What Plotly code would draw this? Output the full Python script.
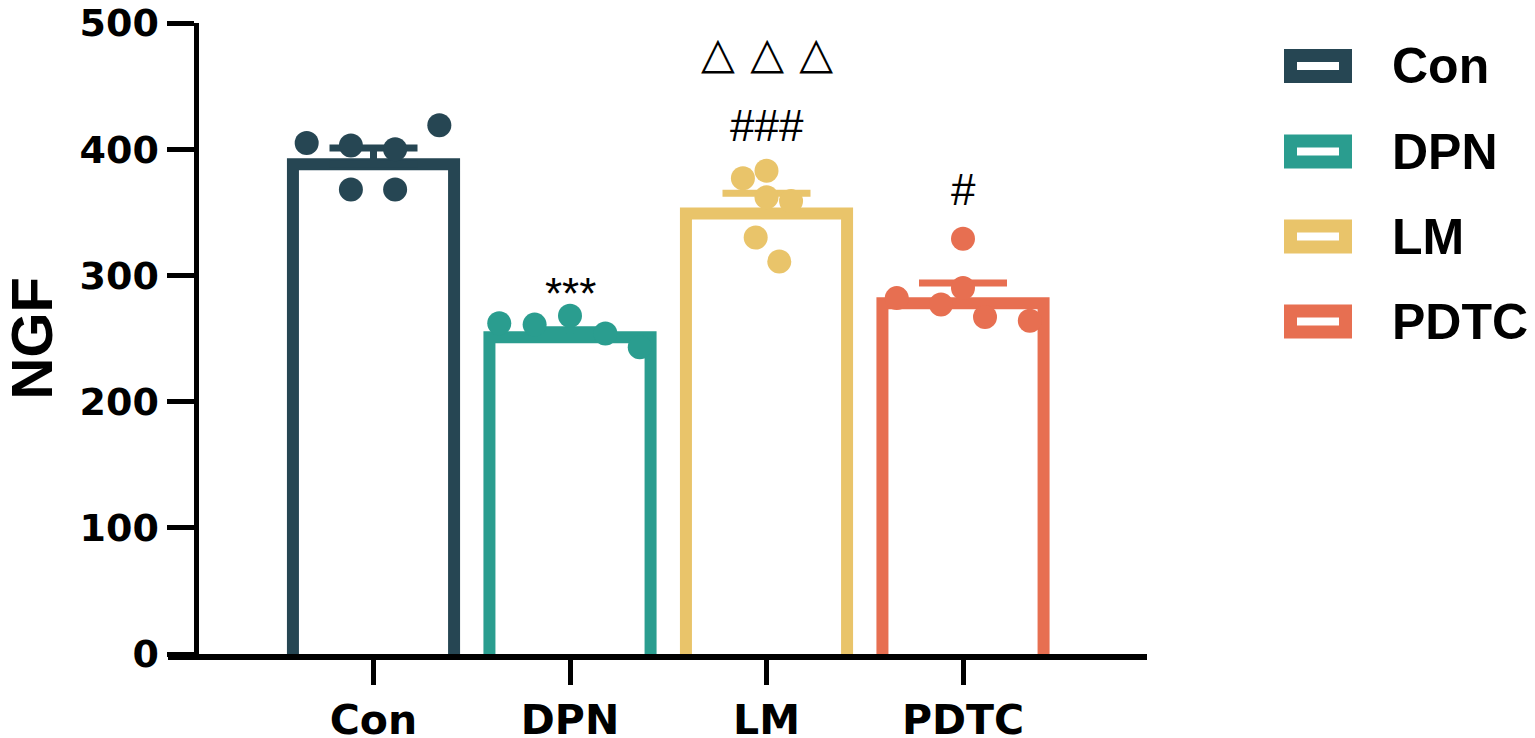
import plotly.graph_objects as go

# groups and colours
groups = ["Con", "DPN", "LM", "PDTC"]
colors = ["#264653", "#2a9d8f", "#e9c46a", "#e76f51"]

# bar heights (mean) and upper error (SEM)
means = [388, 251, 349, 278]
sems = [13, 6, 16, 16]

# individual points per group
con_pts = [405, 403, 400, 419, 368, 368]
dpn_pts = [262, 261, 268, 254, 243]
lm_pts = [377, 383, 362, 359, 330, 311]
pdtc_pts = [329, 282, 277, 290, 267, 264]
points = [con_pts, dpn_pts, lm_pts, pdtc_pts]

# horizontal scatter of the points (fraction of category spacing)
con_jit = [-0.34, -0.115, 0.11, 0.335, -0.115, 0.11]
dpn_jit = [-0.36, -0.18, 0.0, 0.18, 0.355]
lm_jit = [-0.12, 0.0, 0.0, 0.125, -0.055, 0.065]
pdtc_jit = [0.0, -0.337, -0.112, 0.0, 0.112, 0.34]
jitters = [con_jit, dpn_jit, lm_jit, pdtc_jit]

# significance marks
sig_text = ["***", "###", "\u25b3 \u25b3 \u25b3", "#"]
sig_group = [1, 2, 2, 3]
sig_level = [286, 419, 477, 368]

xpos = list(range(len(groups)))

# page has an 8px body margin, so layout pixels are shifted by it
OFF = 8
W, H = 1535, 738
L = 168 - OFF
R = W - (1147 - OFF)
T = 23 - OFF
B = H - (654 - OFF)
pw, ph = W - L - R, H - T - B


def px_x(p):
    return (p - OFF - L) / pw


def px_y(p):
    return (H - B - (p - OFF)) / ph


fig = go.Figure()

# open bars (white fill, thick coloured outline); base below zero hides bottom edge
fig.add_trace(go.Bar(
    x=xpos, y=[m + 5 for m in means], base=-5, width=0.82,
    marker=dict(color="white", line=dict(color=colors, width=12)),
    showlegend=False, hoverinfo="skip",
))

# error bars (upper only)
for i, c in enumerate(colors):
    fig.add_trace(go.Scatter(
        x=[xpos[i]], y=[means[i]], mode="markers",
        marker=dict(size=1, opacity=0),
        error_y=dict(type="data", array=[sems[i]], arrayminus=[0], symmetric=False,
                     color=c, thickness=7, width=44),
        showlegend=False,
    ))

# individual points
for i, c in enumerate(colors):
    fig.add_trace(go.Scatter(
        x=[xpos[i] + j for j in jitters[i]], y=points[i], mode="markers",
        marker=dict(size=24, color=c, line=dict(width=0)),
        showlegend=False,
    ))

fig.update_layout(
    width=W, height=H,
    margin=dict(l=L, r=R, t=T, b=B),
    paper_bgcolor="white", plot_bgcolor="white",
    xaxis=dict(
        range=[(168 - 373.5) / 196.5, (1147 - 373.5) / 196.5],
        tickvals=xpos, ticktext=groups, ticks="outside", ticklen=25, tickwidth=5,
        tickcolor="black", showline=True, linewidth=6, linecolor="black",
        showgrid=False, zeroline=False, automargin=False, ticklabeloverflow="allow",
        tickfont=dict(family="DejaVu Sans", size=41, color="black", weight="bold"),
    ),
    yaxis=dict(
        range=[0, 500], tickvals=[0, 100, 200, 300, 400, 500],
        anchor="free", position=px_x(195.5),
        ticks="outside", ticklen=27, tickwidth=5, tickcolor="black",
        showline=True, linewidth=5, linecolor="black",
        showgrid=False, zeroline=False, automargin=False, ticklabeloverflow="allow",
        tickfont=dict(family="DejaVu Sans", size=38, color="black", weight="bold"),
    ),
)

# y title
fig.add_annotation(x=px_x(31), y=0.5, xref="paper", yref="paper", text="NGF",
                   textangle=-90, showarrow=False, xanchor="center", yanchor="middle",
                   font=dict(family="Liberation Sans, Arial", size=58, color="black", weight="bold"))

# significance labels
for t, sx, sy in zip(sig_text, sig_group, sig_level):
    tri = "\u25b3" in t
    fig.add_annotation(x=sx, y=sy, text=t, showarrow=False, yanchor="middle",
                       font=dict(family="DejaVu Sans" if tri else "Liberation Sans, Arial",
                                 size=44, color="black", weight="bold" if tri else "normal"))

# custom legend: outlined swatches with large labels
leg_y = [66, 151.5, 236.5, 321.5]
for g, c, ly in zip(groups, colors, leg_y):
    fig.add_shape(type="rect", xref="paper", yref="paper",
                  x0=px_x(1290.5), x1=px_x(1345.5), y0=px_y(ly + 10.5), y1=px_y(ly - 10.5),
                  line=dict(color=c, width=13), fillcolor="white")
    fig.add_annotation(x=px_x(1390), y=px_y(ly), xref="paper", yref="paper", text=g,
                       showarrow=False, xanchor="left", yanchor="middle",
                       font=dict(family="Liberation Sans, Arial", size=50, color="black", weight="bold"))

fig.write_html("out.html")
